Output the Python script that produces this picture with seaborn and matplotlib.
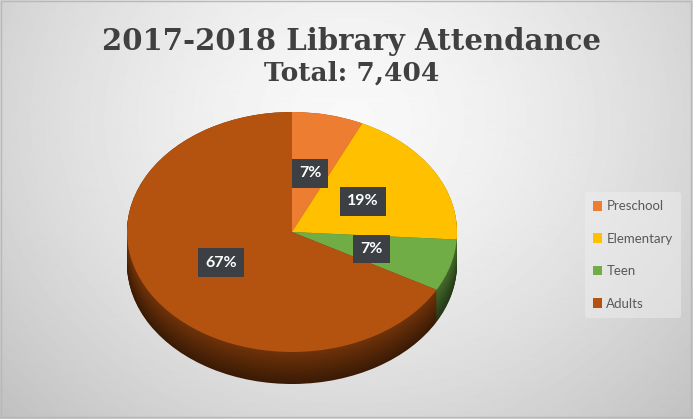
import numpy as np
import matplotlib
matplotlib.use("Agg")
import matplotlib.pyplot as plt
import matplotlib.colors as mcolors
from matplotlib.patches import Patch, Rectangle
import seaborn as sns

sns.set_theme(style="white")
plt.rcParams['font.family'] = ['DejaVu Sans']

# ---- data ----
categories = ["Preschool", "Elementary", "Teen", "Adults"]
shares = [7, 19, 7, 67]
title = "2017-2018 Library Attendance"
subtitle = "Total: 7,404"
colors = ["#ED7D31", "#FFC000", "#70AD47", "#B4520F"]

W, H = 693, 419
fig = plt.figure(figsize=(W / 100, H / 100), dpi=100)

# background radial gradient
bg = fig.add_axes([0, 0, 1, 1])
yy, xx = np.mgrid[0:H, 0:W]
d = np.sqrt(((xx - 350) / 450.0) ** 2 + ((yy - 120) / 400.0) ** 2)
val = np.clip(0.975 - 0.2 * d ** 1.5, 0, 1)
bg.imshow(val, cmap="gray", vmin=0, vmax=1, extent=[0, W, H, 0], aspect="auto")
bg.set_xlim(0, W)
bg.set_ylim(H, 0)
bg.axis("off")
bg.add_patch(Rectangle((1, 1), W - 3, H - 3, fill=False, ec="#b8b8b8", lw=1))

# pie geometry (pixels)
cx, rx = 292, 165
top, ry, depth = 112, 120, 32
D = depth / ry
ax = fig.add_axes([(cx - rx) / W, 1 - (top + 2 * ry + depth) / H,
                   2 * rx / W, (2 * ry + depth) / H])

def shade(c, f):
    r, g, b = mcolors.to_rgb(c)
    return (r * f, g * f, b * f)

N = 40
for k in range(N - 1, -1, -1):
    t = k / (N - 1)
    off = -D * t
    f = 0.62 - 0.3 * t
    ax.pie(shares, colors=[shade(c, f) for c in colors], startangle=90,
           counterclock=False, center=(0, off), radius=1,
           wedgeprops=dict(linewidth=0, antialiased=True))

wedges, texts, autotexts = ax.pie(
    shares, colors=colors, startangle=90, counterclock=False,
    center=(0, 0), radius=1, autopct="%1.0f%%", pctdistance=0.5,
    wedgeprops=dict(linewidth=0),
    textprops=dict(color="white", fontsize=11.5, fontweight="bold", family="Lato"))
for t in autotexts:
    t.set_bbox(dict(boxstyle="square,pad=0.45", fc="#3c3f44", ec="none"))

ax.set_aspect("auto")
ax.set_xlim(-1, 1)
ax.set_ylim(-1 - D, 1)
ax.axis("off")

# titles
fig.text(352 / W, 1 - 42 / H, title, ha="center", va="center", fontsize=21,
         fontweight="bold", family="DejaVu Serif", color="#404040")
fig.text(352 / W, 1 - 73 / H, subtitle, ha="center", va="center", fontsize=19,
         fontweight="bold", family="DejaVu Serif", color="#404040")

# legend
handles = [Patch(facecolor=c, edgecolor="none") for c in colors]
leg = fig.legend(handles, categories, loc="center left",
                 bbox_to_anchor=(578 / W, 1 - 255 / H), frameon=True,
                 labelspacing=1.55, handlelength=0.75,
                 handleheight=0.75, handletextpad=0.3, borderpad=0.6,
                 prop=dict(family="Lato", size=9.5))
leg.get_frame().set_facecolor("#eeeeee")
leg.get_frame().set_edgecolor("none")
leg.get_frame().set_alpha(0.5)
for t in leg.get_texts():
    t.set_color("#595959")

fig.savefig("out.png", dpi=100)
